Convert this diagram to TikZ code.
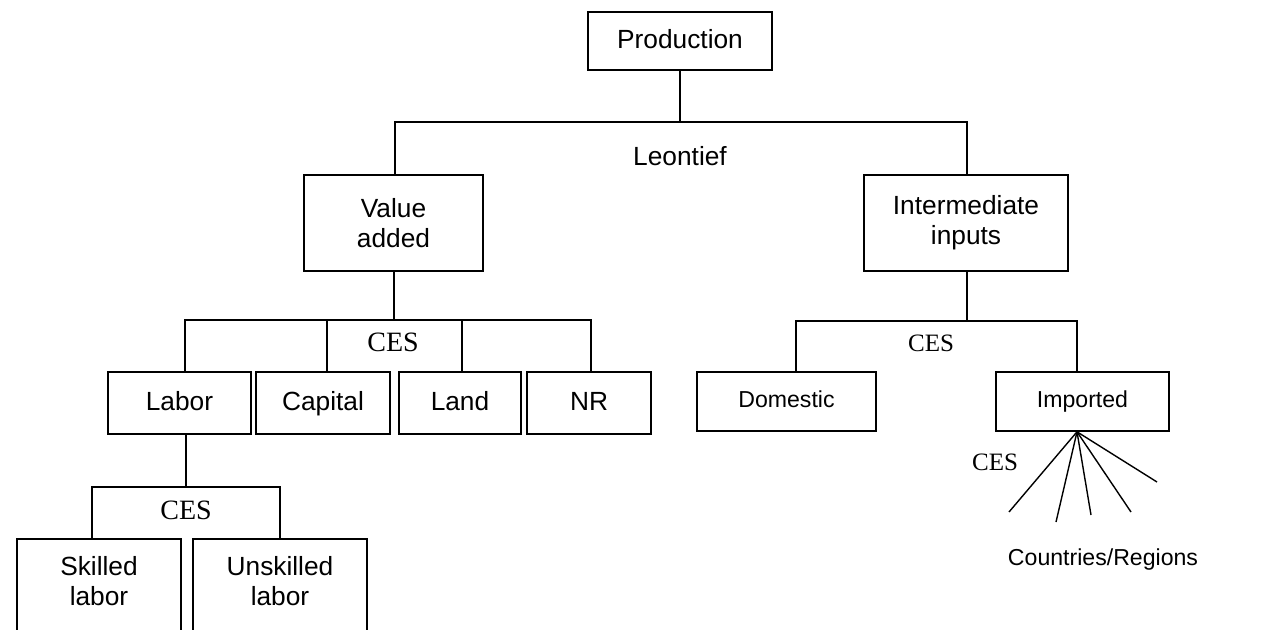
\documentclass[tikz,border=0pt]{standalone}
\usepackage{fontspec}
\setmainfont{Liberation Sans}
\newfontfamily\cesfont{Liberation Serif}
\begin{document}
\begin{tikzpicture}[x=1pt,y=-1pt,
  line width=1.6pt,
  box/.style={draw, rectangle, inner sep=0pt, align=center,
    font=\fontsize{26.3}{30}\selectfont},
  onebox/.style={box, text height=19.5pt, text depth=5.5pt},
  sbox/.style={draw, rectangle, inner sep=0pt, font=\fontsize{23.1}{28}\selectfont,
    text height=17pt, text depth=5pt},
  lbl/.style={inner sep=0pt, font=\fontsize{26.3}{30}\selectfont},
  slbl/.style={inner sep=0pt, font=\fontsize{23.1}{28}\selectfont},
  ces/.style={inner sep=0pt, font=\cesfont\fontsize{28}{30}\selectfont},
  cess/.style={inner sep=0pt, font=\cesfont\fontsize{25}{30}\selectfont},
  conn/.style={draw, line width=1.6pt},
  fan/.style={draw, line width=1.4pt}]
\useasboundingbox (0,0) rectangle (1274,629);
\clip (0,0) rectangle (1274,629);

% top
\node[onebox, minimum width=184, minimum height=58] (prod) at (680,41) {Production};
\node[box, minimum width=179, minimum height=96] (va) at (393.5,223) {Value\\added};
\node[box, minimum width=204, minimum height=96] (ii) at (966,223) {Intermediate\\inputs};
\node[lbl] (leon) at (680,156) {Leontief};
\coordinate (bus1) at (680,122);
\coordinate (xva) at (395,0);
\coordinate (xii) at (967,0);
\draw[conn] (prod) -- (bus1);
\draw[conn] (xva |- va.north) |- (bus1) -| (xii |- ii.north);

% value added level
\node[onebox, minimum width=143, minimum height=62] (labor) at (179.5,403) {Labor};
\node[onebox, minimum width=134, minimum height=62] (capital) at (323,403) {Capital};
\node[onebox, minimum width=122, minimum height=62] (land) at (460,403) {Land};
\node[onebox, minimum width=124, minimum height=62] (nr) at (589,403) {NR};
\node[ces] (ces1) at (393,342) {CES};
\coordinate (bus2) at (394,320);
\coordinate (xlab) at (185,0);
\coordinate (xcap) at (327,0);
\coordinate (xland) at (462,0);
\coordinate (xnr) at (591,0);
\draw[conn] (bus2 |- va.south) -- (bus2);
\draw[conn] (xlab |- labor.north) |- (bus2) -| (xnr |- nr.north);
\draw[conn] (xcap |- capital.north) -- (xcap |- bus2);
\draw[conn] (xland |- land.north) -- (xland |- bus2);

% labor level
\node[draw, rectangle, inner sep=0pt, minimum width=164, minimum height=130, anchor=north] (skilled) at (99,538) {};
\node[draw, rectangle, inner sep=0pt, minimum width=174, minimum height=130, anchor=north] (unskilled) at (280,538) {};
\node[lbl, align=center] (skilledtxt) at (99,581) {Skilled\\labor};
\node[lbl, align=center] (unskilledtxt) at (280,581) {Unskilled\\labor};
\node[ces] (ces2) at (186,510) {CES};
\coordinate (bus3) at (186,487);
\coordinate (xsk) at (92,0);
\coordinate (xun) at (280,0);
\draw[conn] (bus3 |- labor.south) -- (bus3);
\draw[conn] (xsk |- skilled.north) |- (bus3) -| (xun |- unskilled.north);

% intermediate level
\node[sbox, minimum width=179, minimum height=59] (dom) at (786.5,401.5) {Domestic};
\node[sbox, minimum width=173, minimum height=59] (imp) at (1082.5,401.5) {Imported};
\node[cess] (ces3) at (931,343) {CES};
\coordinate (bus4) at (967,321);
\coordinate (xdom) at (796,0);
\coordinate (ximp) at (1077,0);
\draw[conn] (bus4 |- ii.south) -- (bus4);
\draw[conn] (xdom |- dom.north) |- (bus4) -| (ximp |- imp.north);

% fan
\coordinate (f1) at (1009,512);
\coordinate (f2) at (1056,522);
\coordinate (f3) at (1091,515);
\coordinate (f4) at (1131,512);
\coordinate (f5) at (1157,482);
\node[cess] (ces4) at (995,462) {CES};
\node[slbl] (countries) at (1103,560) {Countries/Regions};
\foreach \f in {f1,f2,f3,f4,f5}
  \draw[fan] (ximp |- imp.south) -- (\f);
\end{tikzpicture}
\end{document}
